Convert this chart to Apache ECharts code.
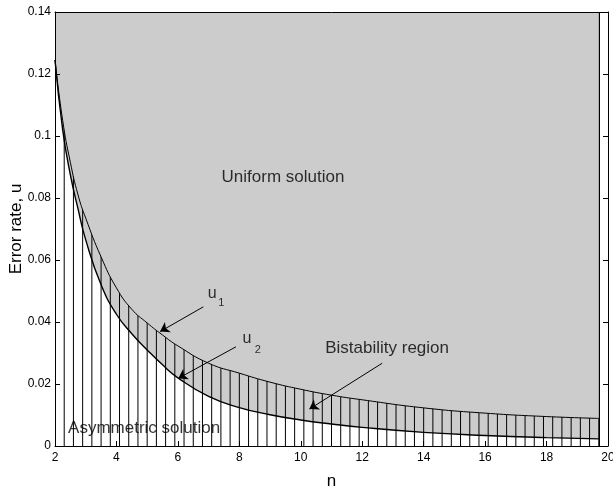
<!DOCTYPE html>
<html>
<head>
<meta charset="utf-8">
<script src="https://cdn.jsdelivr.net/npm/echarts@6/dist/echarts.min.js"></script>
<style>
html,body{margin:0;padding:0;background:#fff;}
#chart{width:613px;height:491px;}
</style>
</head>
<body>
<div id="chart"></div>
<script>
// ---- data ----
const nValues = [2, 2.25, 2.5, 2.75, 3, 3.5, 4, 4.5, 5, 5.5, 6, 7, 8, 9, 10, 11, 12, 14, 16, 18, 19.7];
const u1Values = [0.1245, 0.105, 0.0915, 0.081, 0.0735, 0.061, 0.051, 0.0441, 0.0397, 0.0358, 0.0323, 0.0267, 0.0235, 0.0206, 0.0183, 0.0164, 0.0149, 0.0123, 0.0106, 0.0095, 0.0089];
const u2Values = [0.1245, 0.102, 0.0875, 0.0765, 0.0665, 0.052, 0.0425, 0.0362, 0.0310, 0.0262, 0.0220, 0.0160, 0.0124, 0.0101, 0.0084, 0.0071, 0.0060, 0.0044, 0.0034, 0.0027, 0.0023];
const hatchN = [2.3, 2.6, 2.9, 3.2, 3.5, 3.8, 4.1, 4.4, 4.7, 5.0, 5.3, 5.6, 5.9, 6.2, 6.5, 6.8, 7.1, 7.4, 7.7, 8.0,
  8.3, 8.6, 8.9, 9.2, 9.5, 9.8, 10.1, 10.4, 10.7, 11.0, 11.3, 11.6, 11.9, 12.2, 12.5, 12.8, 13.1, 13.4, 13.7, 14.0,
  14.3, 14.6, 14.9, 15.2, 15.5, 15.8, 16.1, 16.4, 16.7, 17.0, 17.3, 17.6, 17.9, 18.2, 18.5, 18.8, 19.1, 19.4, 19.7];
const xMin = 2, xMax = 20, xStep = 2;
const yMin = 0, yMax = 0.14, yStep = 0.02;
const xTitle = 'n';
const yTitle = 'Error rate, u';
const noteTexts = ['Uniform solution', 'Asymmetric solution', 'Bistability region', 'u', '1', 'u', '2'];

const FONT = '"Liberation Sans", Arial, Helvetica, sans-serif';
const GRAY = '#cccccc';

const u1Data = nValues.map((n, i) => [n, u1Values[i]]);
const u2Data = nValues.map((n, i) => [n, u2Values[i]]);

const notePos = [[9.42, 0.0868], [4.90, 0.0057], [12.81, 0.0315], [7.12, 0.0493], [7.41, 0.0460], [8.25, 0.0346], [8.60, 0.0311]];
const noteSize = [17, 17, 17, 16, 11, 16, 11];

const chart = echarts.init(document.getElementById('chart'), null, {renderer: 'canvas'});

const axisCommon = {
  type: 'value',
  axisLine: {show: true, onZero: false, lineStyle: {color: '#000', width: 1}},
  splitLine: {show: false},
  z: 10
};
const SMOOTH = 0.5;

chart.setOption({
  animation: false,
  backgroundColor: '#ffffff',
  grid: {left: 55, right: 5, top: 12, bottom: 45, containLabel: false, outerBoundsMode: 'none'},
  xAxis: [
    Object.assign({}, axisCommon, {
      position: 'bottom', min: xMin, max: xMax, interval: xStep,
      axisTick: {show: true, inside: true, length: 5, lineStyle: {color: '#000'}},
      axisLabel: {show: true, color: '#000', fontFamily: FONT, fontSize: 12, margin: 6},
      name: xTitle, nameLocation: 'middle', nameGap: 27, nameMoveOverlap: false,
      nameTextStyle: {color: '#000', fontFamily: FONT, fontSize: 17}
    }),
    Object.assign({}, axisCommon, {
      position: 'top', min: xMin, max: xMax, interval: xStep,
      axisTick: {show: false}, axisLabel: {show: false}
    })
  ],
  yAxis: [
    Object.assign({}, axisCommon, {
      position: 'left', min: yMin, max: yMax, interval: yStep,
      axisTick: {show: true, inside: true, length: 5, lineStyle: {color: '#000'}},
      axisLabel: {show: true, color: '#000', fontFamily: FONT, fontSize: 12, margin: 4},
      name: yTitle, nameLocation: 'middle', nameGap: 30, nameRotate: 90, nameMoveOverlap: false,
      nameTextStyle: {color: '#000', fontFamily: FONT, fontSize: 17}
    }),
    Object.assign({}, axisCommon, {
      position: 'right', min: yMin, max: yMax, interval: yStep,
      axisTick: {show: true, inside: true, length: 5, lineStyle: {color: '#000'}},
      axisLabel: {show: false}
    })
  ],
  series: [
    {
      // gray region above u2 (bistability band + uniform region)
      type: 'line', data: u2Data, smooth: SMOOTH,
      symbol: 'none', lineStyle: {width: 0}, z: 1,
      areaStyle: {color: GRAY, opacity: 1, origin: 'end'}
    },
    {
      // vertical hatching
      type: 'custom', z: 2,
      data: hatchN.map(n => [n, yMin]),
      encode: {x: 0, y: 1},
      renderItem: function (params, api) {
        const x = api.value(0);
        const p0 = api.coord([x, yMin]);
        const p1 = api.coord([x, yMax]);
        return {type: 'line', shape: {x1: p0[0], y1: p0[1], x2: p1[0], y2: p1[1]},
          style: {stroke: '#000', lineWidth: 1}};
      }
    },
    {
      // uniform-solution region above u1 (covers hatching)
      type: 'line', data: u1Data, smooth: SMOOTH,
      symbol: 'none', lineStyle: {width: 0}, z: 3,
      areaStyle: {color: GRAY, opacity: 1, origin: 'end'}
    },
    {
      name: 'u1', type: 'line', data: u1Data, smooth: SMOOTH,
      symbol: 'none', z: 4, lineStyle: {color: '#000', width: 1},
      markLine: {
        silent: true, symbol: 'none', label: {show: false},
        lineStyle: {color: '#000', width: 1, type: 'solid'},
        data: [[{coord: [nValues[nValues.length - 1], yMin]}, {coord: [nValues[nValues.length - 1], yMax]}]]
      }
    },
    {
      name: 'u2', type: 'line', data: u2Data, smooth: SMOOTH,
      symbol: 'none', z: 4, lineStyle: {color: '#000', width: 1.4}
    },
    {
      // arrows
      type: 'line', data: [], z: 6, silent: true,
      markLine: {
        silent: true, symbol: ['none', 'arrow'], symbolSize: 9, label: {show: false},
        lineStyle: {color: '#000', width: 1, type: 'solid'},
        itemStyle: {color: '#000'},
        data: [
          [{coord: [6.83, 0.0449]}, {coord: [5.42, 0.0369]}],
          [{coord: [7.89, 0.0320]}, {coord: [6.01, 0.0218]}],
          [{coord: [12.65, 0.0267]}, {coord: [10.28, 0.0119]}]
        ]
      }
    },
    {
      // text annotations
      type: 'scatter', z: 7, symbolSize: 0, silent: true,
      itemStyle: {color: '#000'},
      data: noteTexts.map((t, i) => ({
        value: notePos[i],
        label: {show: true, position: 'inside', formatter: t, color: '#000',
          textBorderWidth: 0, fontFamily: FONT, fontSize: noteSize[i]}
      }))
    }
  ]
});
</script>
</body>
</html>
